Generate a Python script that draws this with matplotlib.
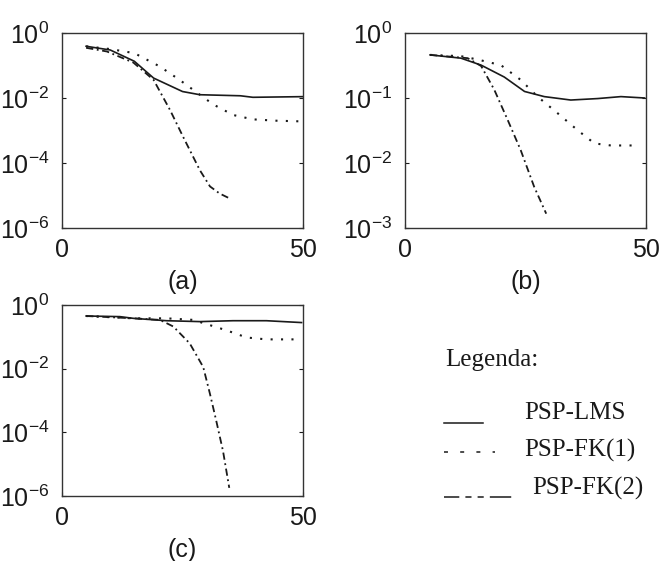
import matplotlib.pyplot as plt
from matplotlib.lines import Line2D

plt.rcParams['font.family'] = ['Liberation Sans', 'DejaVu Sans']
plt.rcParams['mathtext.fontset'] = 'custom'
plt.rcParams['mathtext.rm'] = 'Liberation Sans'
plt.rcParams['axes.unicode_minus'] = False

# Panel (a)
xa_lms = [5, 10, 15, 19, 25, 28.6, 37, 39.6, 50]
ya_lms = [0.39, 0.30, 0.135, 0.041, 0.0158, 0.0126, 0.0117, 0.0105, 0.011]
xa_fk1 = [5, 10, 15, 20.3, 24.4, 28.6, 31.4, 35.5, 39.6, 44.5, 50]
ya_fk1 = [0.39, 0.32, 0.24, 0.093, 0.036, 0.0126, 0.0063, 0.0030, 0.0022, 0.0020, 0.0019]
xa_fk2 = [5, 9.3, 14.8, 19, 22.4, 25.1, 28.6, 30.7, 32.7, 34.8]
ya_fk2 = [0.35, 0.27, 0.123, 0.036, 0.0043, 6.5e-4, 6.0e-5, 1.9e-5, 1.15e-5, 8.1e-6]

# Panel (b)
xb_lms = [5.2, 11.6, 15.8, 20.6, 24.8, 28.9, 34.4, 40, 44.8, 49.7]
yb_lms = [0.46, 0.41, 0.32, 0.21, 0.126, 0.105, 0.093, 0.098, 0.105, 0.10]
xb_fk1 = [5.2, 11.6, 15.1, 19.9, 24, 27.5, 31.7, 35.8, 39.3, 42.7, 48.3]
yb_fk1 = [0.46, 0.44, 0.39, 0.32, 0.19, 0.105, 0.058, 0.032, 0.020, 0.0186, 0.0186]
xb_fk2 = [5.2, 13, 15.8, 18.5, 21.3, 24, 26.8, 29.3]
yb_fk2 = [0.46, 0.41, 0.31, 0.135, 0.046, 0.0158, 0.0043, 0.00166]

# Panel (c)
xc_lms = [5, 12, 14.8, 21.7, 28.6, 35.5, 42.4, 45.9, 49.7]
yc_lms = [0.45, 0.43, 0.38, 0.32, 0.30, 0.32, 0.32, 0.30, 0.28]
xc_fk1 = [5, 14.8, 21.7, 27.2, 30, 34.1, 38.3, 42.4, 49.7]
yc_fk1 = [0.45, 0.38, 0.38, 0.34, 0.25, 0.16, 0.095, 0.083, 0.083]
xc_fk2 = [5, 14.8, 20.3, 23.1, 26.5, 29.3, 30.7, 32.0, 33.4, 34.7]
yc_fk2 = [0.45, 0.38, 0.34, 0.21, 0.062, 0.0112, 1.6e-3, 2.3e-4, 2.6e-5, 1.8e-6]

ticks_a = [1e-6, 1e-4, 1e-2, 1e0]
ticks_b = [1e-3, 1e-2, 1e-1, 1e0]
labels = ['(a)', '(b)', '(c)']
legend_names = ['PSP-LMS', 'PSP-FK(1)', 'PSP-FK(2)']

ink = '#1a1a1a'
dotted = (0, (1, 4))
dashdot = (0, (4, 2, 1, 2))

fig = plt.figure(figsize=(6.62, 5.61), dpi=100)
ax_a = fig.add_axes([0.0937, 0.5936, 0.364, 0.3476])
ax_b = fig.add_axes([0.6118, 0.5936, 0.364, 0.3476])
ax_c = fig.add_axes([0.0937, 0.1159, 0.364, 0.3405])

panels = [
    (ax_a, xa_lms, ya_lms, xa_fk1, ya_fk1, xa_fk2, ya_fk2, ticks_a),
    (ax_b, xb_lms, yb_lms, xb_fk1, yb_fk1, xb_fk2, yb_fk2, ticks_b),
    (ax_c, xc_lms, yc_lms, xc_fk1, yc_fk1, xc_fk2, yc_fk2, ticks_a),
]

for i, (ax, x1, y1, x2, y2, x3, y3, yt) in enumerate(panels):
    ax.plot(x1, y1, color=ink, lw=1.2, ls='-')
    ax.plot(x2, y2, color=ink, lw=1.5, ls=dotted)
    ax.plot(x3, y3, color=ink, lw=1.3, ls=dashdot)
    ax.set_yscale('log')
    ax.set_xlim(0, 50)
    ax.set_ylim(yt[0], yt[-1])
    ax.set_yticks(yt)
    ax.minorticks_off()
    ax.set_xticks([0, 50])
    ax.set_xticklabels(['0', '50'])
    ax.tick_params(axis='both', direction='in', length=3, width=0.8,
                   labelsize=18, colors=ink)
    ax.tick_params(axis='y', right=True, pad=9)
    ax.tick_params(axis='x', pad=7)
    for s in ax.spines.values():
        s.set_linewidth(1.0)
        s.set_color('#333333')
    ax.set_xlabel(labels[i], fontsize=18, labelpad=6, color=ink)

# hand-drawn style legend at the bottom right
W, H = 662.0, 561.0
serif = ['Liberation Serif', 'DejaVu Serif']
fig.text(445 / W, 1 - 360 / H, 'Legenda:', family=serif, fontsize=18,
         va='center', ha='left', color=ink)

sample_styles = [
    dict(ls='-', lw=1.1),
    dict(ls=(0, (2.6, 8)), lw=1.1),
    dict(ls=(0, (10, 4, 4, 4, 4, 4, 14, 100)), lw=1.1),
]
sample_x = [(444, 483), (444, 495), (444, 523)]
sample_y = [423, 452, 497]
text_pos = [(524, 413), (524, 450), (532, 488)]

for st, (x0, x1), yy, (tx, ty), name in zip(sample_styles, sample_x, sample_y,
                                            text_pos, legend_names):
    fig.add_artist(Line2D([x0 / W, x1 / W], [1 - yy / H, 1 - yy / H],
                          transform=fig.transFigure, color=ink, **st))
    fig.text(tx / W, 1 - ty / H, name, family=serif, fontsize=18,
             va='center', ha='left', color=ink)

fig.savefig('out.png', dpi=100)
